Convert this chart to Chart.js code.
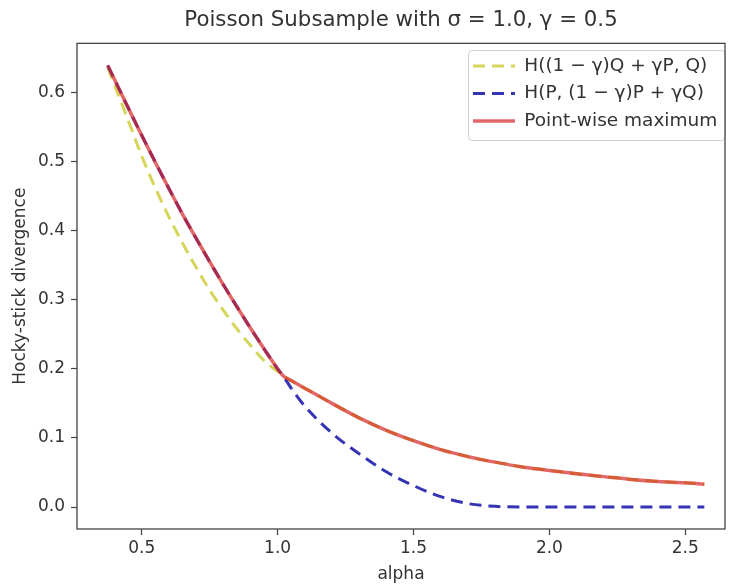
<!DOCTYPE html>
<html>
<head>
<meta charset="utf-8">
<script src="https://cdn.jsdelivr.net/npm/chart.js@4.4.1/dist/chart.umd.min.js"></script>
<style>
html, body { margin: 0; padding: 0; background: #fff; }
</style>
</head>
<body>
<canvas id="myChart" width="733" height="585"></canvas>
<script>
// alpha grid shared by the three curves
const alphas = [0.375, 0.45, 0.5, 0.55, 0.6, 0.65, 0.7, 0.75, 0.8, 0.85, 0.9, 0.95, 1.0, 1.02,
    1.05, 1.1, 1.2, 1.3, 1.4, 1.5, 1.6, 1.7, 1.8, 1.9, 2.0, 2.1, 2.2, 2.3, 2.4, 2.5, 2.57];

// H((1-g)Q + gP, Q)
const hockeyQ = [0.636, 0.560, 0.508, 0.462, 0.420, 0.382, 0.347, 0.314, 0.285, 0.258, 0.234, 0.212, 0.196, 0.190,
    0.183, 0.172, 0.150, 0.129, 0.111, 0.096, 0.083, 0.073, 0.065, 0.058, 0.053, 0.048, 0.044, 0.040, 0.037, 0.035, 0.033];

// H(P, (1-g)P + gQ)
const hockeyP = [0.639, 0.578, 0.538, 0.499, 0.461, 0.424, 0.389, 0.355, 0.322, 0.290, 0.259, 0.229, 0.200, 0.190,
    0.172, 0.146, 0.107, 0.077, 0.051, 0.031, 0.015, 0.005, 0.001, 0.0, 0.0, 0.0, 0.0, 0.0, 0.0, 0.0, 0.0];

// point-wise maximum of the two
const hockeyMax = [0.639, 0.578, 0.538, 0.499, 0.461, 0.424, 0.389, 0.355, 0.322, 0.290, 0.259, 0.229, 0.200, 0.190,
    0.183, 0.172, 0.150, 0.129, 0.111, 0.096, 0.083, 0.073, 0.065, 0.058, 0.053, 0.048, 0.044, 0.040, 0.037, 0.035, 0.033];

const seriesNames = ['H((1 − γ)Q + γP, Q)', 'H(P, (1 − γ)P + γQ)', 'Point-wise maximum'];
const xTickVals = [0.5, 1.0, 1.5, 2.0, 2.5];
const yTickVals = [0.0, 0.1, 0.2, 0.3, 0.4, 0.5, 0.6];

const toPoints = (vals) => alphas.map((a, i) => ({ x: a, y: vals[i] }));

Chart.defaults.font.family = "'DejaVu Sans', sans-serif";
Chart.defaults.color = '#333';

const boxPlugin = {
    id: 'boxPlugin',
    afterLayout(chart) {
        // title centred over the axes, legend inside upper right
        const a = chart.chartArea;
        chart.titleBlock.left = a.left;
        chart.titleBlock.right = a.right;
        const lg = chart.legend;
        const h = lg.height;
        lg.left = 464;
        lg.top = 47.75;
        lg.right = 725;
        lg.bottom = lg.top + h;
    },
    afterDraw(chart) {
        const { ctx, chartArea: a } = chart;
        ctx.save();
        ctx.strokeStyle = '#cfcfcf';
        ctx.lineWidth = 1;
        ctx.beginPath();
        ctx.roundRect(468.5, 50.5, 257, 90, 4);
        ctx.stroke();
        ctx.strokeStyle = '#444';
        ctx.lineWidth = 1.3;
        ctx.strokeRect(a.left, a.top, a.right - a.left, a.bottom - a.top);
        ctx.restore();
    }
};

const ctx = document.getElementById('myChart').getContext('2d');

new Chart(ctx, {
    type: 'line',
    data: {
        datasets: [
            {
                label: seriesNames[0],
                data: toPoints(hockeyQ),
                borderColor: 'rgba(191, 191, 0, 0.65)',
                backgroundColor: 'rgba(191, 191, 0, 0.65)',
                borderWidth: 3,
                borderDash: [12, 7],
                order: 3
            },
            {
                label: seriesNames[1],
                data: toPoints(hockeyP),
                borderColor: '#3434b4',
                backgroundColor: '#3434b4',
                borderWidth: 3,
                borderDash: [12, 7],
                order: 2
            },
            {
                label: seriesNames[2],
                data: toPoints(hockeyMax),
                borderColor: 'rgba(214, 39, 40, 0.7)',
                backgroundColor: 'rgba(214, 39, 40, 0.7)',
                borderWidth: 3.5,
                order: 1
            }
        ]
    },
    options: {
        responsive: false,
        animation: false,
        layout: { padding: { left: 0, right: 8, top: 0, bottom: 0 } },
        elements: {
            point: { radius: 0 },
            line: { cubicInterpolationMode: 'monotone' }
        },
        scales: {
            x: {
                type: 'linear',
                min: 0.262,
                max: 2.646,
                afterBuildTicks: (s) => { s.ticks = xTickVals.map(v => ({ value: v })); },
                afterFit: (s) => { s.height = 56; },
                border: { display: false },
                grid: { drawOnChartArea: false, tickLength: 6, tickColor: '#444', tickWidth: 1.2 },
                ticks: {
                    font: { size: 17 },
                    padding: 3,
                    maxRotation: 0,
                    callback: (v) => v.toFixed(1)
                },
                title: { display: true, text: 'alpha', font: { size: 17 }, padding: { top: 0, bottom: 0 } }
            },
            y: {
                min: -0.0318,
                max: 0.671,
                afterBuildTicks: (s) => { s.ticks = yTickVals.map(v => ({ value: v })); },
                afterFit: (s) => { s.width = 77; },
                border: { display: false },
                grid: { drawOnChartArea: false, tickLength: 6, tickColor: '#444', tickWidth: 1.2 },
                ticks: {
                    font: { size: 17 },
                    padding: 6,
                    callback: (v) => v.toFixed(1)
                },
                title: { display: true, text: 'Hocky-stick divergence', font: { size: 17 }, padding: { top: 10, bottom: 0 } }
            }
        },
        plugins: {
            title: {
                display: true,
                text: 'Poisson Subsample with σ = 1.0, γ = 0.5',
                font: { size: 21.3, weight: 'normal' },
                color: '#333',
                padding: { top: 8, bottom: 9.8 }
            },
            legend: {
                position: 'chartArea',
                align: 'start',
                labels: {
                    usePointStyle: true,
                    pointStyle: 'line',
                    pointStyleWidth: 42,
                    padding: 9,
                    font: { size: 18.5 },
                    color: '#333',
                    sort: (a, b) => a.datasetIndex - b.datasetIndex,
                    generateLabels: (chart) => {
                        const items = Chart.defaults.plugins.legend.labels.generateLabels(chart);
                        items.forEach((it) => {
                            const ds = chart.data.datasets[it.datasetIndex];
                            it.lineDash = ds.borderDash || [];
                            it.lineWidth = ds.borderWidth;
                            it.strokeStyle = ds.borderColor;
                        });
                        return items;
                    }
                }
            },
            tooltip: { enabled: false }
        }
    },
    plugins: [boxPlugin]
});
</script>
</body>
</html>
